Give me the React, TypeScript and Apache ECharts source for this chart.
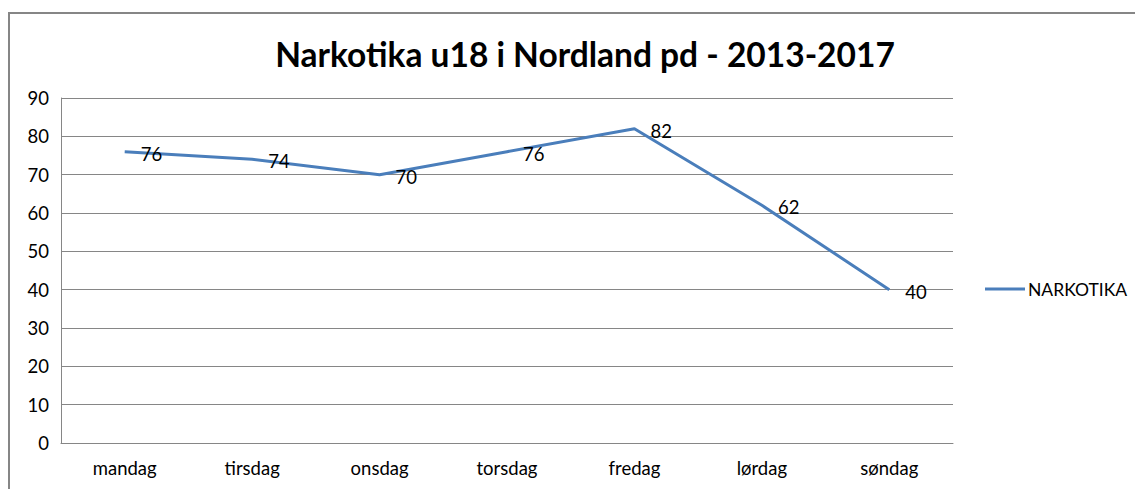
import React, { useEffect, useRef } from "react";
import * as echarts from "echarts";

const categories = ["mandag", "tirsdag", "onsdag", "torsdag", "fredag", "lørdag", "søndag"];
const narkotika = [76, 74, 70, 76, 82, 62, 40];
const seriesName = "NARKOTIKA";
const titleText = "Narkotika u18 i Nordland pd - 2013-2017";

const FONT = "Lato, 'Open Sans', sans-serif";

export default function App() {
  const ref = useRef<HTMLDivElement>(null);
  useEffect(() => {
    if (!ref.current) return;
    const chart = echarts.init(ref.current, null, { renderer: "svg" });
    chart.setOption({
      animation: false,
      backgroundColor: "#ffffff",
      textStyle: { fontFamily: FONT },
      title: {
        text: titleText,
        left: 580,
        textAlign: "center",
        top: 32,
        textStyle: { fontFamily: FONT, fontWeight: "bold", fontSize: 33.5, color: "#000" },
      },
      graphic: [
        {
          type: "rect",
          shape: { x: 9, y: 13, width: 1200, height: 600 },
          style: { fill: "none", stroke: "#868686", lineWidth: 2 },
          silent: true,
        },
      ],
      legend: {
        data: [seriesName],
        orient: "vertical",
        left: 980,
        top: 275,
        icon: "rect",
        itemWidth: 40,
        itemHeight: 3,
        itemGap: 4,
        textStyle: { fontFamily: FONT, fontSize: 17.5, color: "#000", padding: [0, 0, 0, -2] },
      },
      grid: { left: 61, right: 182, top: 98, bottom: 46, containLabel: false },
      xAxis: {
        type: "category",
        data: categories,
        boundaryGap: true,
        axisLine: { show: true, lineStyle: { color: "#868686", width: 1 } },
        axisTick: { show: false },
        axisLabel: { fontFamily: FONT, fontSize: 18.5, color: "#000", margin: 15 },
        splitLine: { show: false },
      },
      yAxis: {
        type: "value",
        min: 0,
        max: 90,
        interval: 10,
        axisLine: { show: true, lineStyle: { color: "#868686", width: 1 } },
        axisTick: { show: false },
        axisLabel: { fontFamily: FONT, fontSize: 18.5, color: "#000", margin: 12 },
        splitLine: { show: true, lineStyle: { color: "#868686", width: 1 } },
      },
      series: [
        {
          name: seriesName,
          type: "line",
          data: narkotika,
          showSymbol: true,
          symbol: "circle",
          symbolSize: 0.1,
          lineStyle: { color: "#4a7ebb", width: 3 },
          itemStyle: { color: "#4a7ebb" },
          label: {
            show: true,
            position: "right",
            distance: 16,
            offset: [0, 2],
            fontFamily: FONT,
            fontSize: 18.5,
            color: "#000",
          },
        },
      ],
    });
    return () => chart.dispose();
  }, []);
  return (
    <div
      ref={ref}
      style={{ position: "fixed", left: 0, top: 0, width: 1135, height: 489 }}
    />
  );
}
